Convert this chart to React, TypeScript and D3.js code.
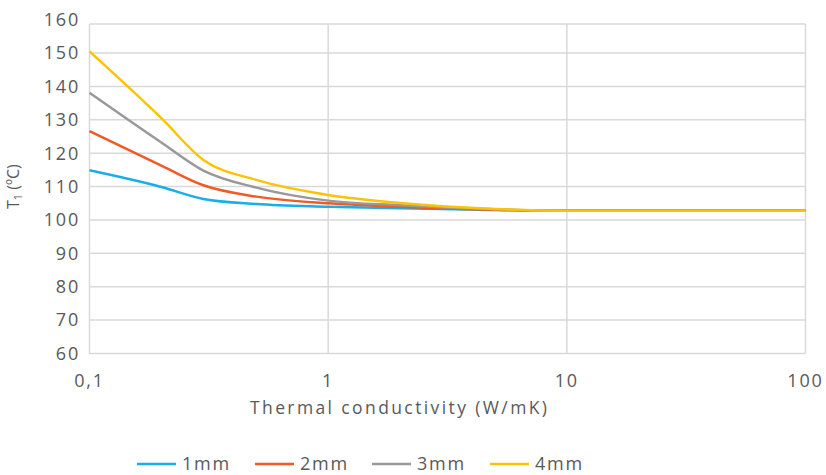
import React from "react";
import * as d3 from "d3";

const conductivity = [0.1, 0.2, 0.3, 0.5, 1, 2, 5, 10, 100];
const series1mm = [114.9, 109.9, 106.3, 104.8, 104.0, 103.5, 103.0, 102.8, 102.8];
const series2mm = [126.6, 116.3, 110.4, 107.0, 105.0, 104.0, 103.1, 102.8, 102.8];
const series3mm = [138.1, 123.2, 114.8, 109.7, 105.8, 104.4, 103.2, 102.8, 102.8];
const series4mm = [150.5, 130.5, 118.0, 112.0, 107.5, 105.1, 103.3, 102.8, 102.8];
const seriesNames = ["1mm", "2mm", "3mm", "4mm"];
const seriesColors = ["#1aaee8", "#f05a24", "#999999", "#fdc300"];
const yTicks = [60, 70, 80, 90, 100, 110, 120, 130, 140, 150, 160];
const xTicks = [0.1, 1, 10, 100];
const xTickLabels = ["0,1", "1", "10", "100"];

const W = 826;
const H = 475;
const left = 89.5;
const right = 805.5;
const y60 = 353.5;
const y160 = 19.7;
const plotTop = 24;

export default function App() {
  const x = d3.scaleLog().domain([0.1, 100]).range([left, right]);
  const y = d3.scaleLinear().domain([60, 160]).range([y60, y160]);
  const all = [series1mm, series2mm, series3mm, series4mm];
  const line = d3
    .line<[number, number]>()
    .x((d) => x(d[0]))
    .y((d) => y(d[1]))
    .curve(d3.curveMonotoneX);
  const font = "'Open Sans', 'DejaVu Sans', sans-serif";
  const textColor = "#595959";
  const grid = "#d9d9d9";
  const legendStarts = [137, 255, 372, 490];
  const legendY = 464;
  return (
    <svg
      width={W}
      height={H}
      style={{ position: "absolute", left: 0, top: 0 }}
      fontFamily={font}
    >
      <rect x={0} y={0} width={W} height={H} fill="#fff" />
      {yTicks
        .filter((t) => t < 160)
        .map((t) => (
          <line key={t} x1={left} x2={right} y1={y(t)} y2={y(t)} stroke={grid} strokeWidth={1.5} />
        ))}
      <line x1={left} x2={right} y1={plotTop} y2={plotTop} stroke={grid} strokeWidth={1.5} />
      {xTicks.map((t) => (
        <line key={t} x1={x(t)} x2={x(t)} y1={plotTop} y2={y60} stroke={grid} strokeWidth={1.5} />
      ))}
      {yTicks.map((t) => (
        <text
          key={t}
          x={80}
          y={y(t)}
          dy="0.35em"
          textAnchor="end"
          fontSize={18}
          fill={textColor}
          letterSpacing={1.8}
        >
          {t}
        </text>
      ))}
      {xTicks.map((t, i) => (
        <text
          key={t}
          x={x(t)}
          y={381}
          dy="0.35em"
          textAnchor="middle"
          fontSize={18}
          fill={textColor}
          letterSpacing={1.8}
        >
          {xTickLabels[i]}
        </text>
      ))}
      <text
        x={250}
        y={408}
        dy="0.35em"
        fontSize={17.5}
        fill={textColor}
        textLength={297}
        lengthAdjust="spacing"
      >
        Thermal conductivity (W/mK)
      </text>
      <text
        transform={`translate(13, ${(y60 + y160) / 2}) rotate(-90)`}
        textAnchor="middle"
        dy="0.35em"
        fontSize={16}
        fill={textColor}
      >
        T<tspan fontSize={11} dy="3">1</tspan>
        <tspan dy="-3"> (ºC)</tspan>
      </text>
      {all.map((s, i) => (
        <path
          key={seriesNames[i]}
          d={line(conductivity.map((c, j) => [c, s[j]] as [number, number])) || ""}
          fill="none"
          stroke={seriesColors[i]}
          strokeWidth={2.5}
          strokeLinejoin="round"
        />
      ))}
      {seriesNames.map((n, i) => (
        <g key={n}>
          <line
            x1={legendStarts[i]}
            x2={legendStarts[i] + 39}
            y1={legendY}
            y2={legendY}
            stroke={seriesColors[i]}
            strokeWidth={2.5}
          />
          <text
            x={legendStarts[i] + 45}
            y={legendY}
            dy="0.35em"
            fontSize={18}
            fill={textColor}
            letterSpacing={1.8}
          >
            {n}
          </text>
        </g>
      ))}
    </svg>
  );
}
